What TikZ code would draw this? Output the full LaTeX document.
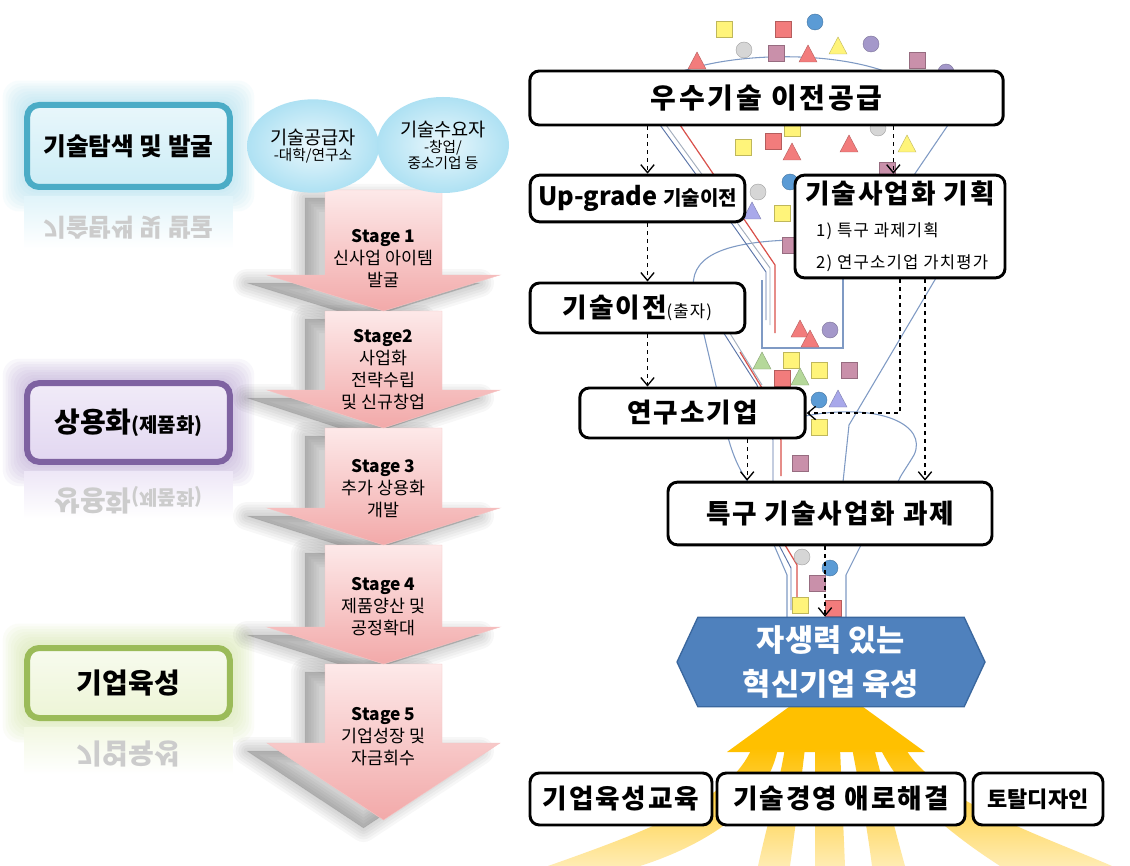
\documentclass[tikz,border=0pt]{standalone}
\usepackage{fontspec}
\setmainfont{Noto Sans CJK KR}
\usetikzlibrary{shapes.geometric, shapes.symbols, arrows.meta, backgrounds, calc}

\definecolor{tealedge}{HTML}{4BACC6}
\definecolor{tealfill}{HTML}{CDEDF6}
\definecolor{tealglow}{HTML}{9FDCEE}
\definecolor{purpedge}{HTML}{7E62A1}
\definecolor{purpfill}{HTML}{E2D7F1}
\definecolor{purpglow}{HTML}{B19BD0}
\definecolor{greenedge}{HTML}{9BBB59}
\definecolor{greenfill}{HTML}{EDF5D6}
\definecolor{greenglow}{HTML}{D0E59C}
\definecolor{stagetop}{HTML}{FDE9E9}
\definecolor{stagebot}{HTML}{F2A9A9}
\definecolor{bubblec}{HTML}{AEE1F3}
\definecolor{funnel}{HTML}{7F9AC4}
\definecolor{streamred}{HTML}{D9504A}
\definecolor{streamgray}{HTML}{A3AEBD}
\definecolor{streamblue}{HTML}{5A74A8}
\definecolor{hexblue}{HTML}{4F81BD}
\definecolor{hexedge}{HTML}{3A679E}
\definecolor{sunyellow}{HTML}{FFC000}
\definecolor{dotyellow}{HTML}{FFF47A}
\definecolor{dotred}{HTML}{F27C7C}
\definecolor{dotmauve}{HTML}{C990AA}
\definecolor{dotgray}{HTML}{D6D6D6}
\definecolor{dotblue}{HTML}{5B9BD5}
\definecolor{dotpurple}{HTML}{A498CA}
\definecolor{dotgreen}{HTML}{B5D89A}
\definecolor{dotlilac}{HTML}{A8A8EA}

\tikzstyle{tagbox} = [
    rectangle,
    rounded corners=9pt,
    line width=4.5pt,
    minimum width=152pt
]
\tikzstyle{tagecho} = [
    yscale=-1,
    text=black!20
]
\tikzstyle{bubble} = [
    ellipse,
    inner color=bubblec!25,
    outer color=bubblec,
    align=center,
    inner sep=0pt
]
\tikzstyle{stageshadow} = [
    fill=black,
    draw=black,
    opacity=0.03,
    line join=round,
    xshift=-15pt,
    yshift=-6pt
]
\tikzstyle{stagearrow} = [
    top color=stagetop,
    bottom color=stagebot,
    draw=stagebot!70,
    line width=0.3pt
]
\tikzstyle{stagetext} = [
    align=center,
    font=\fontsize{13}{16.5}\selectfont
]
\tikzstyle{flowbox} = [
    rectangle,
    rounded corners=7pt,
    minimum height=37.5pt,
    draw=black,
    line width=2.2pt,
    fill=white,
    font=\fontsize{20}{24}\selectfont\bfseries\addfontfeatures{LetterSpace=7}
]
\tikzstyle{hexbox} = [
    signal,
    signal to=west and east,
    signal pointer angle=130,
    minimum width=231pt,
    minimum height=67pt,
    fill=hexblue,
    draw=hexedge,
    line width=1pt,
    text=white,
    align=center,
    font=\fontsize{23}{33}\selectfont\bfseries
]
\tikzstyle{funnelline} = [draw=funnel, line width=0.8pt]
\tikzstyle{dasharrow} = [line width=1pt, dashed, -{Straight Barb[length=6pt,width=10pt]}]
\tikzstyle{stem} = [top color=sunyellow, bottom color=sunyellow!30]

\begin{document}
\begin{tikzpicture}[x=0.75pt, y=-0.75pt]

\useasboundingbox (0,0) rectangle (1130,866);
\begin{scope}[on background layer]
  \fill[white] (0,0) rectangle (1130,866);
\end{scope}

% stage arrows: soft shadows first, then the arrows, lowest one first
\foreach \t/\b/\p in {664/743/820, 545/627/664, 428/508/545, 311/390/428, 190/275/311}
  \foreach \w in {1,5,9,13,17,21}
    \filldraw [stageshadow, line width=\w pt] (325,\t) -- (442,\t) -- (442,\b) -- (500,\b) -- (383.5,\p) -- (267,\b) -- (325,\b) -- cycle;
\foreach \t/\b/\p in {664/743/820, 545/627/664, 428/508/545, 311/390/428, 190/275/311}
  \path [stagearrow] (325,\t) -- (442,\t) -- (442,\b) -- (500,\b) -- (383.5,\p) -- (267,\b) -- (325,\b) -- cycle;

\node (stage1) [stagetext] at (383.5,259) {\textbf{Stage 1}\\신사업 아이템\\발굴};
\node (stage2) [stagetext] at (383.5,370) {\textbf{Stage2}\\사업화\\전략수립\\및 신규창업};
\node (stage3) [stagetext] at (383.5,489) {\textbf{Stage 3}\\추가 상용화\\개발};
\node (stage4) [stagetext] at (383.5,607) {\textbf{Stage 4}\\제품양산 및\\공정확대};
\node (stage5) [stagetext] at (383.5,737) {\textbf{Stage 5}\\기업성장 및\\자금회수};

% supplier / demander bubbles
\node (supplier) [bubble, minimum width=99pt, minimum height=70pt] at (313,146)
{{\fontsize{14}{18}\selectfont 기술공급자}\\{\fontsize{11}{13}\selectfont -대학/연구소}};
\node (demander) [bubble, minimum width=99pt, minimum height=72pt] at (443,145)
{{\fontsize{14}{18}\selectfont 기술수요자}\\{\fontsize{11}{14}\selectfont -창업/}\\{\fontsize{11}{14}\selectfont 중소기업 등}};

% phase tags on the left
\node (explore) [tagbox, draw=tealedge, top color=tealfill!45, bottom color=tealfill,
    minimum height=61.5pt, font=\fontsize{18.5}{22}\selectfont\bfseries] at (128.5,146) {기술탐색 및 발굴};
\node (commer) [tagbox, draw=purpedge, top color=purpfill!50, bottom color=purpfill,
    minimum height=59pt, font=\fontsize{21}{24}\selectfont\bfseries] at (128.5,422.5)
    {상용화{\fontsize{15}{18}\selectfont(제품화)}};
\node (nurture) [tagbox, draw=greenedge, top color=greenfill!40, bottom color=greenfill,
    minimum height=52.5pt, font=\fontsize{21}{24}\selectfont\bfseries] at (128.5,683) {기업육성};

\begin{scope}[on background layer]
  \foreach \n/\c in {explore/tealglow, commer/purpglow, nurture/greenglow}
    \foreach \g in {2,4,...,16}
      \fill[\c, opacity=0.08, rounded corners=12pt]
        ([shift={({-\g*1pt},{\g*1pt})}]\n.north west) rectangle ([shift={({\g*1pt},{-\g*1pt})}]\n.south east);
\end{scope}

% faded reflections under the tags
\shade[top color=tealfill!60, bottom color=white] ([yshift=-5pt]explore.south west) rectangle ([yshift=-44pt]explore.south east);
\shade[top color=purpfill!60, bottom color=white] ([yshift=-5pt]commer.south west) rectangle ([yshift=-40pt]commer.south east);
\shade[top color=greenfill!70, bottom color=white] ([yshift=-5pt]nurture.south west) rectangle ([yshift=-40pt]nurture.south east);
\node (exploreecho) [tagecho, font=\fontsize{18.5}{22}\selectfont\bfseries] at (128.5,228) {기술탐색 및 발굴};
\node (commerecho) [tagecho, font=\fontsize{21}{24}\selectfont\bfseries] at (128.5,500)
    {상용화{\fontsize{15}{18}\selectfont(제품화)}};
\node (nurtureecho) [tagecho, font=\fontsize{21}{24}\selectfont\bfseries] at (128.5,754) {기업육성};

% funnel outline
\draw [funnelline] (683,71) .. controls (740,52) and (830,52) .. (884,71);
\draw [funnelline] (948,125) -- (912,178);
\draw [funnelline] (792,240) .. controls (720,242) and (688,258) .. (694,292)
    -- (724,420) .. controls (730,450) and (738,468) .. (748,482);
\draw [funnelline] (936,278) -- (849,425) -- (843,482);
\draw [funnelline] (805,416) .. controls (880,402) and (928,425) .. (914,455)
    .. controls (905,470) and (900,476) .. (898,482);
\draw [funnelline] (762,280) -- (762,348) -- (843,348) -- (843,278);
\draw [funnelline] (774,545) -- (787,575) -- (787,617);
\draw [funnelline] (861,545) -- (846,575) -- (846,617);

% streams running down the funnel
\draw [streamblue, line width=0.7pt] (660,125) -- (735,228) -- (766,272) -- (766,320);
\draw [streamgray, line width=0.7pt] (666,125) -- (741,228) -- (770,268) -- (770,325);
\draw [streamred, line width=0.9pt] (680,125) -- (750,228) -- (775,265) -- (775,333);
\draw [streamblue, line width=0.7pt] (693,285) -- (757,385) -- (773,440) -- (773,482);
\draw [streamgray, line width=0.7pt] (700,285) -- (762,385);
\draw [streamred, line width=0.9pt] (740,352) -- (762,388) -- (781,440) -- (781,476);
\draw [streamblue, line width=0.7pt] (779,545) -- (791,568) -- (791,610);
\draw [streamred, line width=0.9pt] (785,545) -- (797,565) -- (797,600);

% items falling through the funnel
\foreach \x/\y/\c in {724/29/dotyellow, 783/29/dotred, 776/53/dotmauve, 917/60/dotmauve,
    743/147/dotyellow, 773/141/dotred, 792/128/dotyellow, 887/170/dotmauve, 782/213/dotyellow,
    790/245/dotmauve, 791/360/dotyellow, 819/370/dotyellow, 849/370/dotmauve, 782/378/dotred,
    819/427/dotyellow, 800/463/dotmauve, 817/583/dotmauve, 800/605/dotyellow, 833/608/dotred}
  \filldraw [fill=\c, draw=\c!75!black, line width=0.3pt] (\x,\y) +(-8,-8) rectangle +(8,8);
\foreach \x/\y/\c in {815/22/dotblue, 744/50/dotgray, 871/44/dotpurple, 946/72/dotpurple,
    878/128/dotgray, 758/192/dotgray, 790/182/dotblue, 830/330/dotpurple, 819/400/dotblue,
    802/557/dotgray, 830/568/dotblue}
  \filldraw [fill=\c, draw=\c!75!black, line width=0.3pt] (\x,\y) circle (6pt);
\foreach \x/\y/\c in {808/55/dotred, 838/47/dotyellow, 697/62/dotred, 792/153/dotred,
    849/145/dotred, 907/145/dotyellow, 752/212/dotlilac, 800/330/dotred, 810/340/dotred,
    762/362/dotgreen, 800/378/dotgreen, 838/400/dotlilac}
  \filldraw [fill=\c, draw=\c!75!black, line width=0.3pt] (\x,\y) +(0,-10) -- +(9,7) -- +(-9,7) -- cycle;

% process boxes
\node (transfer) [flowbox, minimum width=355pt, minimum height=40.5pt,
    font=\fontsize{21}{24}\selectfont\bfseries\addfontfeatures{LetterSpace=10}] at (766.5,98) {우수기술 이전공급};
\node (upgrade) [flowbox, minimum width=161pt, minimum height=35pt,
    font=\fontsize{19}{22}\selectfont\bfseries] at (637.5,198.5)
    {Up-grade {\fontsize{15}{18}\selectfont 기술이전}};
\node (plan) [flowbox, minimum width=157.5pt, minimum height=77pt, align=left] at (900,226.5)
    {기술사업화 기획\\[1pt]
     {\fontsize{12.5}{15}\selectfont\mdseries\hspace*{8pt}1) 특구 과제기획}\\
     {\fontsize{12.5}{15}\selectfont\mdseries\hspace*{8pt}2) 연구소기업 가치평가}};
\node (invest) [flowbox, minimum width=161pt] at (637.5,308)
    {기술이전{\fontsize{12.5}{15}\selectfont\mdseries(출자)}};
\node (labco) [flowbox, minimum width=169pt] at (692.5,413) {연구소기업};
\node (project) [flowbox, minimum width=243pt, minimum height=47pt] at (830,513.5) {특구 기술사업화 과제};

% dashed flow between the boxes
\draw [dasharrow] ($(upgrade.north |- transfer.south)+(7.5pt,0)$) -- ($(upgrade.north)+(7.5pt,0)$);
\draw [dasharrow] ($(plan.north |- transfer.south)+(-5pt,0)$) -- ($(plan.north)+(-5pt,0)$);
\draw [dasharrow] ($(upgrade.south)+(7.5pt,0)$) -- ($(upgrade.south |- invest.north)+(7.5pt,0)$);
\draw [dasharrow] ($(invest.south)+(7.5pt,0)$) -- ($(invest.south |- labco.north)+(7.5pt,0)$);
\draw [dasharrow] (plan.south) |- (labco.east);
\draw [dasharrow] ($(plan.south)+(18.75pt,0)$) -- ($(plan.south |- project.north)+(18.75pt,0)$);
\draw [dasharrow] ($(labco.south)+(41pt,0)$) -- ($(labco.south |- project.north)+(41pt,0)$);

% support arrows rising from the bottom
\fill [sunyellow] (727,752) -- (826,680) -- (925,752) -- cycle;
\shade [stem] (548,866) .. controls (650,830) and (730,800) .. (752,748)
    -- (778,748) .. controls (765,815) and (690,850) .. (640,866) -- cycle;
\shade [stem] (758,866) .. controls (768,820) and (778,790) .. (785,748)
    -- (805,748) .. controls (800,790) and (795,830) .. (790,866) -- cycle;
\shade [stem] (815,866) -- (815,748) -- (840,748) -- (845,866) -- cycle;
\shade [stem] (872,866) .. controls (866,820) and (860,790) .. (852,748)
    -- (874,748) .. controls (885,790) and (895,830) .. (905,866) -- cycle;
\shade [stem] (1000,866) .. controls (960,840) and (905,800) .. (880,748)
    -- (905,748) .. controls (935,800) and (1040,835) .. (1112,866) -- cycle;

\node (hex) [hexbox] at (831,662) {자생력 있는\\혁신기업 육성};
\draw [dasharrow] ($(project.south)+(-3.75pt,0)$) -- ($(project.south |- hex.north)+(-3.75pt,0)$);

\node (edu) [flowbox, minimum width=136.5pt, minimum height=39pt] at (621,799) {기업육성교육};
\node (mgmt) [flowbox, minimum width=186pt, minimum height=39pt] at (841,799) {기술경영 애로해결};
\node (design) [flowbox, minimum width=97.5pt, minimum height=39pt,
    font=\fontsize{16.5}{20}\selectfont\bfseries] at (1038,799) {토탈디자인};

\end{tikzpicture}
\end{document}
